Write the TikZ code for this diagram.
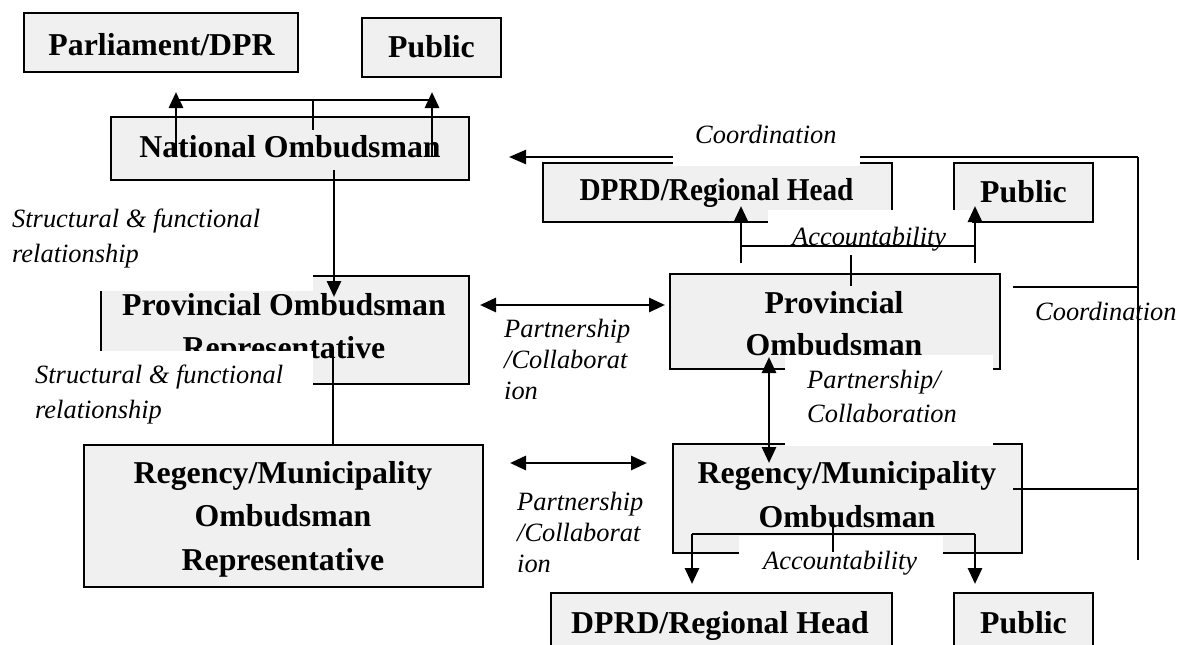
\documentclass[tikz,border=0pt]{standalone}
\usepackage{fontspec}
\usepackage{graphicx}
\setmainfont{Liberation Serif}
\usetikzlibrary{arrows.meta,fit}
\definecolor{boxfill}{RGB}{240,240,240}
\tikzset{
  box/.style={draw=black, line width=1.9pt, fill=boxfill, inner sep=0pt},
  btext/.style={font=\fontsize{31.8}{43}\selectfont\bfseries, inner sep=0pt, anchor=base},
  itext/.style={font=\fontsize{26.4}{33}\selectfont\itshape, inner sep=0pt, anchor=base west},
  stem/.style={line width=2.9pt, -{Triangle[length=16pt,width=14pt]}},
  dstem/.style={line width=2.9pt, {Triangle[length=16pt,width=14pt]}-{Triangle[length=16pt,width=14pt]}},
  joinline/.style={line width=2.2pt},
  coordline/.style={line width=2.4pt},
  patch/.style={fill=white},
}
\newcommand{\clines}[2]{\vtop{\baselineskip=#1pt\halign{\hfil##\hfil\cr#2\crcr}}}
\newcommand{\llines}[2]{\vtop{\baselineskip=#1pt #2}}
\begin{document}
\begin{tikzpicture}[x=1pt,y=-1pt]
\useasboundingbox (0,0) rectangle (1178,645);
\clip (0,0) rectangle (1178,645);

% ---------------- boxes ----------------
\node[box, fit={(24,13) (298,72)}] (parl) {};
\node[box, fit={(362,18) (501,77)}] (pubtop) {};
\node[box, fit={(111,117) (469,180)}] (nat) {};
\node[box, fit={(543,163) (892,222)}] (dprdtop) {};
\node[box, fit={(954,163) (1093,222)}] (pubright) {};
\node[box, fit={(101,276) (469,384)}] (provrep) {};
\node[box, fit={(670,274) (1000,369)}] (prov) {};
\node[box, fit={(84,445) (483,587)}] (regrep) {};
\node[box, fit={(673,444) (1022,553)}] (regmun) {};
\node[box, fit={(551,593) (892,662)}] (dprdlow) {};
\node[box, fit={(954,593) (1093,662)}] (publow) {};

% ---------------- box texts ----------------
\node[btext] (parlT) at (161.5,55) {Parliament/DPR};
\node[btext] (pubtopT) at (431.5,57) {Public};
\node[btext] (natT) at (290,157) {National Ombudsman};
\node[btext] (dprdtopT) at (716.5,200) {\scalebox{0.92}[1]{DPRD/Regional Head}};
\node[btext] (pubrightT) at (1023.5,202) {Public};
\node[btext] (provrepT) at (284,315) {\clines{43}{Provincial Ombudsman\cr Representative}};
\node[btext] (provT) at (834,313) {\clines{42}{Provincial\cr Ombudsman}};
\node[btext] (regrepT) at (283,483) {\clines{43.5}{Regency/Municipality\cr Ombudsman\cr Representative}};
\node[btext] (regmunT) at (847,483) {\clines{44}{Regency/Municipality\cr Ombudsman}};
\node[btext] (dprdlowT) at (720,633) {DPRD/Regional Head};
\node[btext] (publowT) at (1023.5,633) {Public};

% ---------------- coordination ----------------
\node[itext] (coordR) at (1035,320) {Coordination};
\coordinate (cTR) at (1138,157);
\coordinate (cTip) at (509,157);
\coordinate (cBot) at (1138,560);
\coordinate (cP1) at (1013,287);
\coordinate (cP2) at (1138,287);
\coordinate (cR1) at (1013,489);
\coordinate (cR2) at (1138,489);
\draw[coordline, -{Triangle[length=17pt,width=14pt]}] (cTR) -- (cTip);
\draw[coordline] (cTR) -- (cBot);
\draw[coordline] (cP1) -- (cP2);
\draw[coordline] (cR1) -- (cR2);

% ---------------- white label patches ----------------
\fill[patch] (673,118) rectangle (860,166);
\fill[patch] (768,210) rectangle (972,265);
\fill[patch] (0,195) rectangle (313,291);
\fill[patch] (20,351) rectangle (313,432);
\fill[patch] (785,355) rectangle (993,446);
\fill[patch] (739,536) rectangle (943,588);

% ---------------- labels ----------------
\node[itext] (coordT) at (695,143) {Coordination};
\node[itext] (accT) at (792,245) {Accountability};
\node[itext] (struct1) at (12,227) {\llines{35}{\hbox{Structural \& functional}\hbox{relationship}}};
\node[itext] (struct2) at (35,383) {\llines{35}{\hbox{Structural \& functional}\hbox{relationship}}};
\node[itext] (partU) at (504,337) {\llines{31}{\hbox{Partnership}\hbox{/Collaborat}\hbox{ion}}};
\node[itext] (partL) at (517,510) {\llines{31}{\hbox{Partnership}\hbox{/Collaborat}\hbox{ion}}};
\node[itext] (partV) at (807,388) {\llines{34}{\hbox{Partnership/}\hbox{Collaboration}}};
\node[itext] (accL) at (763,569) {Accountability};

% ---------------- national accountability ----------------
\coordinate (nL0) at (176,157); \coordinate (nL1) at (176,92);
\coordinate (nR0) at (432,157); \coordinate (nR1) at (432,92);
\coordinate (nH0) at (176,100); \coordinate (nH1) at (432,100);
\coordinate (nS0) at (313,100); \coordinate (nS1) at (313,130);
\draw[stem] (nL0) -- (nL1);
\draw[stem] (nR0) -- (nR1);
\draw[joinline] (nH0) -- (nH1);
\draw[joinline] (nS0) -- (nS1);

% ---------------- structural lines ----------------
\coordinate (sA0) at (334,170); \coordinate (sA1) at (334,297);
\coordinate (sB0) at (333,347); \coordinate (sB1) at (333,445);
\draw[stem] (sA0) -- (sA1);
\draw[line width=2.5pt] (sB0) -- (sB1);

% ---------------- partnership ----------------
\coordinate (pU0) at (480,305); \coordinate (pU1) at (665,305);
\coordinate (pL0) at (510,463); \coordinate (pL1) at (647,463);
\coordinate (pV0) at (769,357); \coordinate (pV1) at (769,463);
\draw[dstem] (pU0) -- (pU1);
\draw[dstem] (pL0) -- (pL1);
\draw[dstem] (pV0) -- (pV1);

% ---------------- provincial accountability ----------------
\coordinate (aL0) at (741,263); \coordinate (aL1) at (741,206);
\coordinate (aR0) at (975,263); \coordinate (aR1) at (975,206);
\coordinate (aH0) at (741,246); \coordinate (aH1) at (975,246);
\coordinate (aS0) at (851,255); \coordinate (aS1) at (851,286);
\draw[stem] (aL0) -- (aL1);
\draw[stem] (aR0) -- (aR1);
\draw[joinline] (aH0) -- (aH1);
\draw[joinline] (aS0) -- (aS1);

% ---------------- regency accountability ----------------
\coordinate (bH0) at (692,534); \coordinate (bH1) at (975,534);
\coordinate (bL1) at (692,584); \coordinate (bR1) at (975,584);
\coordinate (bS0) at (833,527); \coordinate (bS1) at (833,552);
\draw[joinline] (bH0) -- (bH1);
\draw[stem] (bH0) -- (bL1);
\draw[stem] (bH1) -- (bR1);
\draw[joinline] (bS0) -- (bS1);
\end{tikzpicture}
\end{document}
